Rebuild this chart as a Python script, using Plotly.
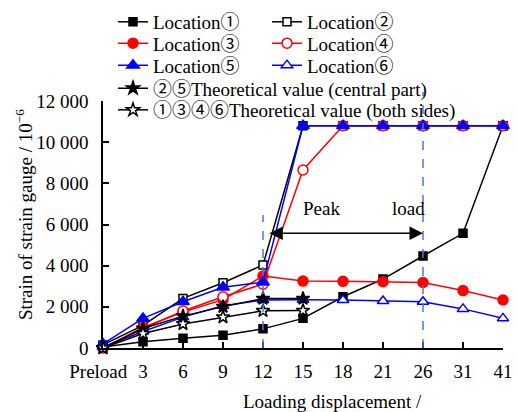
import plotly.graph_objects as go

CATEGORIES = ["Preload", "3", "6", "9", "12", "15", "18", "21", "26", "31", "41"]
TICK_TEXT = ["Preload\u00a0\u00a0", "3", "6", "9", "12", "15", "18", "21", "26", "31", "41"]

LOC1 = [50, 300, 470, 620, 930, 1440, 2490, 3350, 4470, 5570, 10800]
LOC2 = [150, 1100, 2410, 3170, 4030, 10800, 10800, 10800, 10800, 10800, 10800]
LOC3 = [0, 1000, 1750, 2350, 3500, 3250, 3240, 3220, 3180, 2790, 2330]
LOC4 = [-30, 950, 1800, 2490, 3100, 8650, 10800, 10800, 10800, 10800, 10800]
LOC5 = [200, 1440, 2250, 2950, 3200, 10800, 10800, 10800, 10800, 10800, 10800]
LOC6 = [50, 800, 1500, 2050, 2330, 2350, 2330, 2280, 2250, 1900, 1440]
THEORY_CENTRAL = [0, 950, 1550, 2010, 2400, 2400]
THEORY_SIDES = [0, 700, 1170, 1500, 1810, 1820]

Y_TICKS = [0, 2000, 4000, 6000, 8000, 10000, 12000]
Y_TICK_TEXT = ["0", "2 000", "4 000", "6 000", "8 000", "10 000", "12 000"]

FONT = "Liberation Serif, Times New Roman, Noto Sans CJK JP, serif"
FS = 19

fig = go.Figure()

def add(name, y, color, symbol, filled, size, legend):
    fig.add_trace(go.Scatter(
        x=CATEGORIES[:len(y)], y=y, name=name, mode="lines+markers",
        line=dict(color=color, width=1.5),
        marker=dict(symbol=symbol, size=size,
                    color=color if filled else "white",
                    line=dict(color=color, width=1.5)),
        cliponaxis=False, legend=legend,
    ))

add("Location①", LOC1, "black", "square", True, 8, "legend")
add("Location②", LOC2, "black", "square", False, 8, "legend")
add("Location③", LOC3, "red", "circle", True, 10, "legend2")
add("Location④", LOC4, "red", "circle", False, 10, "legend2")
add("Location⑥", LOC6, "blue", "triangle-up", False, 10, "legend3")
add("Location⑤", LOC5, "blue", "triangle-up", True, 11, "legend3")
add("②⑤Theoretical value (central part)", THEORY_CENTRAL, "black", "star", True, 10, "legend4")
add("①③④⑥Theoretical value (both sides)", THEORY_SIDES, "black", "star", False, 10, "legend5")

rows_y = [1.320, 1.2336, 1.1445, 1.0514, 0.9636]
legs = {}
for i, key in enumerate(["legend", "legend2", "legend3", "legend4", "legend5"]):
    d = dict(orientation="h", x=0.025, y=rows_y[i], xanchor="left", yanchor="middle",
             bgcolor="rgba(0,0,0,0)", font=dict(family=FONT, size=FS, color="black"),
             itemwidth=30, traceorder="normal")
    if i < 3:
        d["entrywidth"] = 109
    legs[key] = d
legs["legend3"]["traceorder"] = "reversed"

dash_color = "#4a7cc9"
fig.add_shape(type="line", xref="x", yref="y", x0=4, x1=4, y0=0, y1=6460,
              line=dict(color=dash_color, width=1.5, dash="dash"))
fig.add_shape(type="line", xref="x", yref="paper", x0=8, x1=8, y0=0, y1=1.036,
              line=dict(color=dash_color, width=1.5, dash="dash"))

fig.add_annotation(x=8, y=5570, ax=4.12, ay=5570, xref="x", yref="y", axref="x", ayref="y",
                   showarrow=True, arrowhead=2, arrowside="end+start", arrowsize=1.8,
                   arrowwidth=1.5, arrowcolor="black", standoff=0, startstandoff=0, text="")
fig.add_annotation(x=5.45, y=6800, xref="x", yref="y", text="Peak", showarrow=False,
                   xanchor="center", yanchor="middle",
                   font=dict(family=FONT, size=FS, color="black"))
fig.add_annotation(x=7.63, y=6800, xref="x", yref="y", text="load", showarrow=False,
                   xanchor="center", yanchor="middle",
                   font=dict(family=FONT, size=FS, color="black"))
fig.add_annotation(x=0.5725, y=-0.2146, xref="paper", yref="paper", text="Loading displacement /",
                   xanchor="center", yanchor="middle",
                   showarrow=False, font=dict(family=FONT, size=FS, color="black"))
fig.add_annotation(x=-0.1975, y=0.538, xref="paper", yref="paper", textangle=-90,
                   xanchor="center", yanchor="middle",
                   text="Strain of strain gauge / 10<sup>−6</sup>",
                   showarrow=False, font=dict(family=FONT, size=FS, color="black"))

fig.update_layout(
    width=517, height=412,
    margin=dict(l=103, r=14, t=101, b=64, autoexpand=False),
    paper_bgcolor="white", plot_bgcolor="white",
    font=dict(family=FONT, size=FS, color="black"),
    showlegend=True,
    **legs,
)
fig.update_xaxes(type="category", categoryorder="array", categoryarray=CATEGORIES,
                 range=[0, 10], tickvals=CATEGORIES, ticktext=TICK_TEXT, tickangle=0,
                 automargin=False,
                 showgrid=False, zeroline=False, showline=True, linecolor="black", linewidth=2,
                 ticks="inside", ticklen=6, tickwidth=1.5, tickcolor="black",
                 ticklabelstandoff=5, tickfont=dict(family=FONT, size=FS, color="black"))
fig.update_yaxes(range=[0, 12000], tickvals=Y_TICKS, ticktext=Y_TICK_TEXT, automargin=False,
                 showgrid=False, zeroline=False, showline=True, linecolor="black", linewidth=1.5,
                 ticks="inside", ticklen=6, tickwidth=1.5, tickcolor="black",
                 ticklabelstandoff=9, tickfont=dict(family=FONT, size=FS, color="black"))

fig.write_html("out.html")
